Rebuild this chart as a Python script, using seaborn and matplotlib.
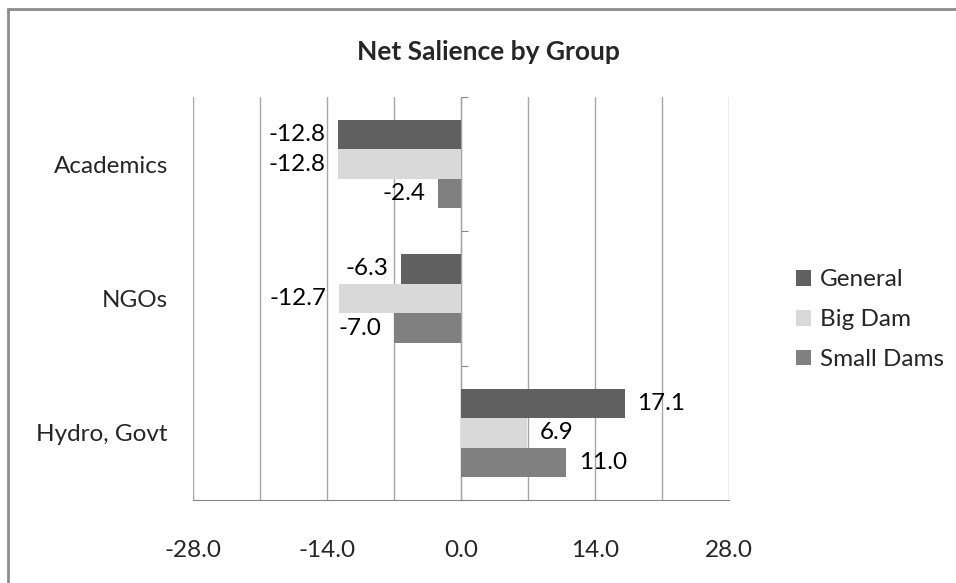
import pandas as pd
import matplotlib
matplotlib.use("Agg")
import matplotlib.pyplot as plt
import matplotlib.lines as mlines
from matplotlib.ticker import MultipleLocator, FormatStrFormatter
import seaborn as sns

# --- data ---
groups = ["Academics", "NGOs", "Hydro, Govt"]
series = ["General", "Big Dam", "Small Dams"]
general = [-12.8, -6.3, 17.1]
big_dam = [-12.8, -12.7, 6.9]
small_dams = [-2.4, -7.0, 11.0]
colors = ["#606060", "#d9d9d9", "#808080"]

rows = []
for name, vals in zip(series, [general, big_dam, small_dams]):
    for g, v in zip(groups, vals):
        rows.append([g, name, v])
df = pd.DataFrame(rows, columns=["group", "series", "value"])

sns.set_style("white")
plt.rcParams["font.family"] = ["Lato", "DejaVu Sans"]
FS = 17.5

fig = plt.figure(figsize=(9.56, 5.83), dpi=100)
ax = fig.add_axes([193 / 956, 1 - 500 / 583, (729 - 193) / 956, (500 - 97) / 583])

sns.barplot(data=df, y="group", x="value", hue="series", order=groups,
            hue_order=series, palette=colors, width=0.66, orient="h",
            saturation=1, edgecolor="none", ax=ax)

for cont in ax.containers:
    ax.bar_label(cont, fmt="%.1f", padding=9, fontsize=FS, color="black")

ax.set_xlim(-28, 28)
ax.set_ylim(2.5, -0.5)
ax.xaxis.set_major_locator(MultipleLocator(14))
ax.xaxis.set_minor_locator(MultipleLocator(7))
ax.xaxis.set_major_formatter(FormatStrFormatter("%.1f"))
ax.grid(True, axis="x", which="both", color="#a6a6a6", linewidth=1)
ax.set_axisbelow(True)
ax.set_xlabel("")
ax.set_ylabel("")

for s in ["top", "right", "left"]:
    ax.spines[s].set_visible(False)
ax.spines["bottom"].set_color("#868686")
ax.tick_params(axis="x", which="major", direction="out", length=6, width=1,
               color="#868686", pad=23, labelsize=FS)
ax.tick_params(axis="x", which="minor", length=0)
ax.tick_params(axis="y", length=0, pad=18, labelsize=FS)

# vertical axis line at zero with category-boundary ticks
sec = ax.secondary_yaxis(0.5)
sec.set_yticks([-0.5, 0.5, 1.5, 2.5])
sec.set_yticklabels([])
sec.tick_params(axis="y", direction="out", length=5, color="#868686")
sec.spines["left"].set_color("#868686")

ax.legend(loc="center left", bbox_to_anchor=(1.085, 0.447), frameon=False,
          fontsize=FS, handlelength=0.6, handleheight=0.6, labelspacing=0.78,
          handletextpad=0.35)

fig.text(488 / 956, 1 - 52 / 583, "Net Salience by Group", ha="center",
         va="center", fontsize=19, fontweight="bold")

# outer chart frame (top and left edges visible)
fig.add_artist(mlines.Line2D([8 / 956, 1], [1 - 9 / 583, 1 - 9 / 583],
                             color="#8c8c8c", linewidth=2, transform=fig.transFigure))
fig.add_artist(mlines.Line2D([8 / 956, 8 / 956], [1 - 9 / 583, 0],
                             color="#8c8c8c", linewidth=2, transform=fig.transFigure))

fig.savefig("out.png", dpi=100, facecolor="white")
